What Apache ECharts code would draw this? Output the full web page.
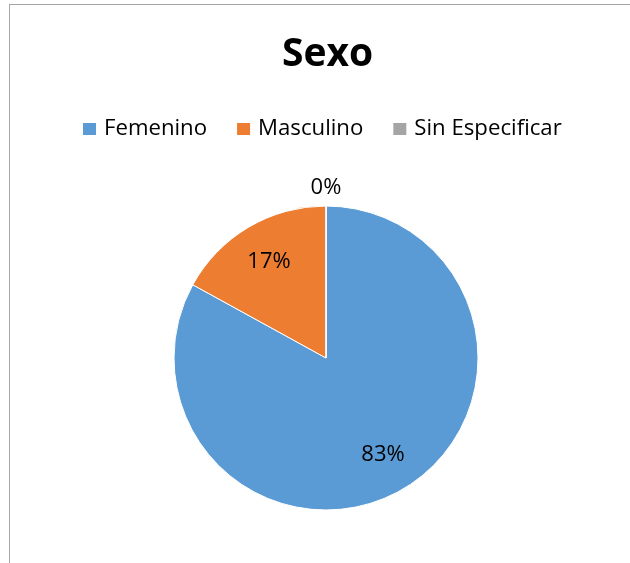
<!DOCTYPE html>
<html>
<head>
<meta charset="utf-8">
<script src="https://cdn.jsdelivr.net/npm/echarts@6/dist/echarts.min.js"></script>
<style>
  html, body { margin: 0; padding: 0; background: #fff; }
  #frame { position: absolute; left: 9px; top: 4px; width: 640px; height: 570px;
           border-left: 1px solid #a6a6a6; border-top: 1px solid #a6a6a6; }
  #chart { position: absolute; left: 0; top: 0; width: 630px; height: 563px; }
</style>
</head>
<body>
<div id="frame"></div>
<div id="chart"></div>
<script>
const titleText = 'Sexo';
const categories = ['Femenino', 'Masculino', 'Sin Especificar'];
const values = [83, 17, 0];
const colors = ['#5B9BD5', '#ED7D31', '#A5A5A5'];

const FONT = '"Open Sans"';
const chart = echarts.init(document.getElementById('chart'), null, { renderer: 'canvas' });

const baseData = categories.map((c, i) => ({ name: c, value: values[i], itemStyle: { color: colors[i] } }));
const pct = p => Math.round(p.percent) + '%';

chart.setOption({
  animation: false,
  backgroundColor: 'transparent',
  title: {
    text: titleText, left: 277, top: 30,
    textStyle: { fontFamily: FONT, fontSize: 39, fontWeight: 'bold', color: '#000' }
  },
  legend: {
    data: categories, top: 113, left: 76,
    icon: 'rect', itemWidth: 15, itemHeight: 14, itemGap: 28,
    textStyle: { fontFamily: FONT, fontSize: 22.2, color: '#000', padding: [0, 0, 0, 2] }
  },
  series: [
    {
      type: 'pie', radius: [0, 152], center: [326, 358],
      startAngle: 90, clockwise: true, avoidLabelOverlap: false,
      label: { show: false }, labelLine: { show: false },
      itemStyle: { borderColor: '#fff', borderWidth: 1 },
      emphasis: { disabled: true },
      data: baseData
    },
    {
      type: 'pie', radius: [66, 152], center: [326, 358],
      startAngle: 90, clockwise: true, avoidLabelOverlap: false, silent: true,
      itemStyle: { color: 'transparent' },
      label: { show: true, position: 'inside', formatter: pct,
               fontFamily: FONT, fontSize: 22, color: '#000' },
      labelLine: { show: false },
      emphasis: { disabled: true },
      data: categories.map((c, i) => ({ name: c, value: values[i],
        label: { show: values[i] > 0 } }))
    },
    {
      type: 'pie', radius: [158, 176], center: [326, 358],
      startAngle: 90, clockwise: true, avoidLabelOverlap: false, silent: true,
      itemStyle: { color: 'transparent' },
      label: { show: true, position: 'inside', formatter: pct,
               fontFamily: FONT, fontSize: 22, color: '#000' },
      labelLine: { show: false },
      emphasis: { disabled: true },
      data: categories.map((c, i) => ({ name: c, value: values[i],
        label: { show: values[i] === 0 } }))
    }
  ]
});
</script>
</body>
</html>
